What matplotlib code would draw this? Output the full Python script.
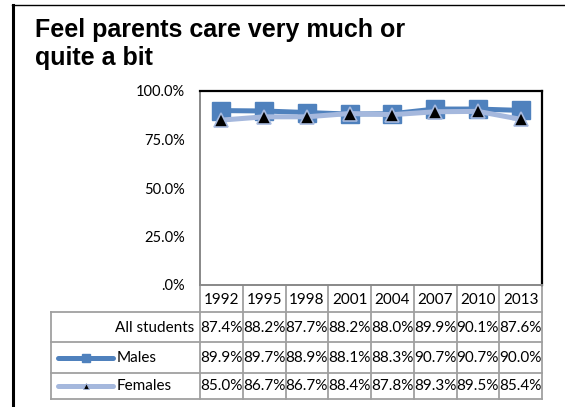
import matplotlib
matplotlib.use("Agg")
import matplotlib.pyplot as plt
from matplotlib.ticker import FuncFormatter
from matplotlib.lines import Line2D

# ---- data ----
years = ["1992", "1995", "1998", "2001", "2004", "2007", "2010", "2013"]
all_students = [87.4, 88.2, 87.7, 88.2, 88.0, 89.9, 90.1, 87.6]
males = [89.9, 89.7, 88.9, 88.1, 88.3, 90.7, 90.7, 90.0]
females = [85.0, 86.7, 86.7, 88.4, 87.8, 89.3, 89.5, 85.4]
row_labels = ["All students", "Males", "Females"]
title = "Feel parents care very much or\nquite a bit"

W, H = 565, 407
MALE_C = "#4F81BD"
FEM_C = "#A5B8DD"
GRID_C = "#A0A0A0"
TXT_FONT = ["Lato", "DejaVu Sans"]
TFS = 11

fig = plt.figure(figsize=(W / 100, H / 100), dpi=100)

# plot area in pixel coords
PL, PR, PT, PB = 200, 542, 91, 285

def fx(x):
    return x / W

def fy(y):
    return 1 - y / H

ax = fig.add_axes([fx(PL), fy(PB), fx(PR - PL), (PB - PT) / H])
xs = list(range(len(years)))
ax.plot(xs, [v / 100 for v in males], color=MALE_C, lw=3.6, marker="s",
        markersize=13, markerfacecolor=MALE_C, markeredgecolor=MALE_C,
        solid_joinstyle="miter", zorder=3)
ax.plot(xs, [v / 100 for v in females], color=FEM_C, lw=3.6, marker="^",
        markersize=10, markerfacecolor="black", markeredgecolor=FEM_C,
        markeredgewidth=1.2, zorder=4)
ax.set_xlim(-0.5, len(years) - 0.5)
ax.set_ylim(0, 1)
ax.set_yticks([0, 0.25, 0.5, 0.75, 1.0])

def pct(v, _):
    s = f"{v * 100:.1f}%"
    return ".0%" if v == 0 else s

ax.yaxis.set_major_formatter(FuncFormatter(pct))
ax.tick_params(axis="y", length=0, pad=11, labelsize=10.5)
for lab in ax.get_yticklabels():
    lab.set_fontfamily(TXT_FONT)
ax.set_xticks([])
ax.spines["top"].set_color("black")
ax.spines["right"].set_color("black")
ax.spines["top"].set_linewidth(1.6)
ax.spines["right"].set_linewidth(1.6)
ax.spines["left"].set_color("#888888")
ax.spines["bottom"].set_color("#888888")
ax.spines["left"].set_linewidth(1.4)
ax.spines["bottom"].set_linewidth(1.4)

# overlay for frame, title and data table
oax = fig.add_axes([0, 0, 1, 1], zorder=-1)
oax.set_xlim(0, W)
oax.set_ylim(H, 0)
oax.axis("off")

# outer frame (left and top)
oax.add_line(Line2D([12.5, 12.5], [5, H], color="black", lw=2.2))
oax.add_line(Line2D([12, W], [5, 5], color="black", lw=1.0))

oax.text(35, 18, title, ha="left", va="top", fontsize=18, fontweight="bold",
         family=["Liberation Sans", "DejaVu Sans"], linespacing=1.2)

# table geometry
TL = 51
ncol = len(years)
cw = (PR - PL) / ncol
rows_y = [PB, 312, 342, 373, 399]
lw_t = 1.3

# horizontal lines
for y in rows_y[1:]:
    oax.add_line(Line2D([TL, PR], [y, y], color=GRID_C, lw=lw_t))
# vertical lines
oax.add_line(Line2D([TL, TL], [rows_y[1], rows_y[-1]], color=GRID_C, lw=lw_t))
for k in range(ncol + 1):
    x = PL + k * cw
    oax.add_line(Line2D([x, x], [PB, rows_y[-1]], color=GRID_C, lw=lw_t))

# year header
for k, yr in enumerate(years):
    oax.text(PL + (k + 0.5) * cw, (rows_y[0] + rows_y[1]) / 2 + 1, yr,
             ha="center", va="center", fontsize=TFS, family=TXT_FONT)

series = [all_students, males, females]
for r, (lab, vals) in enumerate(zip(row_labels, series)):
    yc = (rows_y[r + 1] + rows_y[r + 2]) / 2 + 0.5
    for k, v in enumerate(vals):
        oax.text(PL + (k + 0.5) * cw, yc, f"{v:.1f}%", ha="center",
                 va="center", fontsize=TFS, family=TXT_FONT)
    if r == 0:
        oax.text(PL - 6, yc, lab, ha="right", va="center", fontsize=TFS,
                 family=TXT_FONT)
    else:
        oax.text(117, yc, lab, ha="left", va="center", fontsize=TFS,
                 family=TXT_FONT)

# legend keys in table
yM = (rows_y[2] + rows_y[3]) / 2
yF = (rows_y[3] + rows_y[4]) / 2
oax.add_line(Line2D([58, 113], [yM, yM], color=MALE_C, lw=3.6,
                    solid_capstyle="round"))
oax.plot([85.5], [yM], marker="s", markersize=5.5, color=MALE_C)
oax.add_line(Line2D([58, 113], [yF, yF], color=FEM_C, lw=3.6,
                    solid_capstyle="round"))
oax.plot([85.5], [yF], marker="^", markersize=5, markerfacecolor="black",
         markeredgecolor=FEM_C, markeredgewidth=0.6)

fig.savefig("out.png", dpi=100)
